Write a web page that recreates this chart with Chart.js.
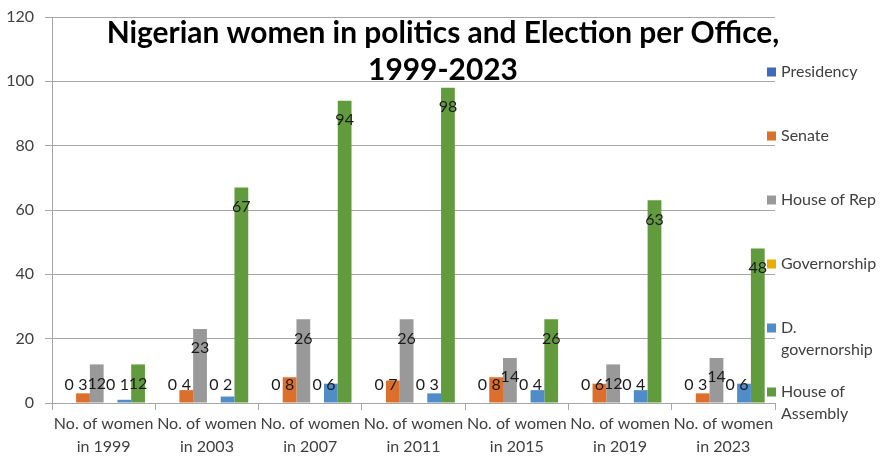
<!DOCTYPE html>
<html>
<head>
<meta charset="utf-8">
<script src="https://cdn.jsdelivr.net/npm/chart.js@4/dist/chart.umd.min.js"></script>
<style>
  html, body { margin: 0; padding: 0; background: #ffffff; }
  #wrap { width: 881px; height: 458px; position: relative; }
</style>
</head>
<body>
<div id="wrap"><canvas id="c" width="881" height="458"></canvas></div>
<script>
// Election years and office series
const categories = [
  ["No. of women", "in 1999"],
  ["No. of women", "in 2003"],
  ["No. of women", "in 2007"],
  ["No. of women", "in 2011"],
  ["No. of women", "in 2015"],
  ["No. of women", "in 2019"],
  ["No. of women", "in 2023"]
];
const seriesNames = ["Presidency", "Senate", "House of Rep", "Governorship", "D. governorship", "House of Assembly"];
const presidency         = [0, 0, 0, 0, 0, 0, 0];
const senate             = [3, 4, 8, 7, 8, 6, 3];
const houseOfRep         = [12, 23, 26, 26, 14, 12, 14];
const governorship       = [0, 0, 0, 0, 0, 0, 0];
const deputyGovernorship = [1, 2, 6, 3, 4, 4, 6];
const houseOfAssembly    = [12, 67, 94, 98, 26, 63, 48];
const yTicks = [0, 20, 40, 60, 80, 100, 120];
const titleLines = ["Nigerian women in politics and Election per Office,", "1999-2023"];

const seriesValues = [presidency, senate, houseOfRep, governorship, deputyGovernorship, houseOfAssembly];
const seriesColors = ["#3f6ab9", "#dc6f2c", "#999999", "#e6ad00", "#4f8cc8", "#629a3e"];

const FONT = "Lato, Calibri, 'Open Sans', sans-serif";
const TEXT = "#404040";

// Value labels: inside the top of each bar, kept clear of the axis for short bars
const valueLabels = {
  id: "valueLabels",
  afterDatasetsDraw(chart) {
    const ctx = chart.ctx;
    const base = chart.scales.y.getPixelForValue(0);
    ctx.save();
    ctx.font = "16px " + FONT;
    ctx.fillStyle = "#1a1a1a";
    ctx.textAlign = "center";
    ctx.textBaseline = "middle";
    chart.data.datasets.forEach((ds, i) => {
      chart.getDatasetMeta(i).data.forEach((bar, j) => {
        const y = Math.min(bar.y + 19, base - 18);
        ctx.fillText(String(ds.data[j]), bar.x, y);
      });
    });
    ctx.restore();
  }
};

// Two-line title over the plot
const titlePlugin = {
  id: "titleText",
  afterDraw(chart) {
    const ctx = chart.ctx;
    ctx.save();
    let size = 27;
    ctx.font = "bold " + size + "px " + FONT;
    const w = ctx.measureText(titleLines[0]).width;
    size = size * 673 / w;
    ctx.font = "bold " + size + "px " + FONT;
    ctx.fillStyle = "#000000";
    ctx.textAlign = "center";
    ctx.textBaseline = "middle";
    ctx.fillText(titleLines[0], 443, 33);
    ctx.fillText(titleLines[1], 443, 70);
    ctx.restore();
  }
};

// Legend column on the right
const sideLegend = {
  id: "sideLegend",
  afterDraw(chart) {
    const ctx = chart.ctx;
    ctx.save();
    ctx.font = "16px " + FONT;
    ctx.textBaseline = "middle";
    ctx.textAlign = "left";
    const x0 = 767, box = 9, tx = 781, maxW = 99;
    chart.data.datasets.forEach((ds, i) => {
      const y = 72 + i * 64;
      ctx.fillStyle = ds.backgroundColor;
      ctx.fillRect(x0, y - box / 2, box, box);
      const words = ds.label.split(" ");
      const lines = [];
      let cur = "";
      words.forEach(wd => {
        const test = cur ? cur + " " + wd : wd;
        if (cur && ctx.measureText(test).width > maxW) { lines.push(cur); cur = wd; }
        else cur = test;
      });
      lines.push(cur);
      ctx.fillStyle = TEXT;
      lines.forEach((ln, k) => ctx.fillText(ln, tx, y + k * 22));
    });
    ctx.restore();
  }
};

new Chart(document.getElementById("c"), {
  type: "bar",
  data: {
    labels: categories,
    datasets: seriesNames.map((name, i) => ({
      label: name,
      data: seriesValues[i],
      backgroundColor: seriesColors[i],
      borderWidth: 0,
      barPercentage: 1.0,
      categoryPercentage: 0.8
    }))
  },
  options: {
    responsive: false,
    animation: false,
    devicePixelRatio: 1,
    layout: { padding: { top: 8, right: 106, left: 0, bottom: 0 } },
    plugins: {
      legend: { display: false },
      title: { display: false },
      tooltip: { enabled: false }
    },
    scales: {
      x: {
        grid: { offset: true, drawOnChartArea: false, color: "#a6a6a6", tickLength: 7 },
        border: { color: "#a6a6a6" },
        ticks: { color: TEXT, font: { family: FONT, size: 16, lineHeight: 1.45 }, padding: 2, maxRotation: 0, autoSkip: false },
        afterFit(axis) { axis.height = 55; }
      },
      y: {
        min: 0, max: 120,
        afterBuildTicks(axis) { axis.ticks = yTicks.map(v => ({ value: v })); },
        grid: { color: "#a6a6a6", tickLength: 7 },
        border: { color: "#a6a6a6" },
        ticks: { color: TEXT, font: { family: FONT, size: 16, lineHeight: 0.75 }, padding: 11 },
        afterFit(axis) { axis.width = 52; }
      }
    }
  },
  plugins: [valueLabels, titlePlugin, sideLegend]
});
</script>
</body>
</html>
